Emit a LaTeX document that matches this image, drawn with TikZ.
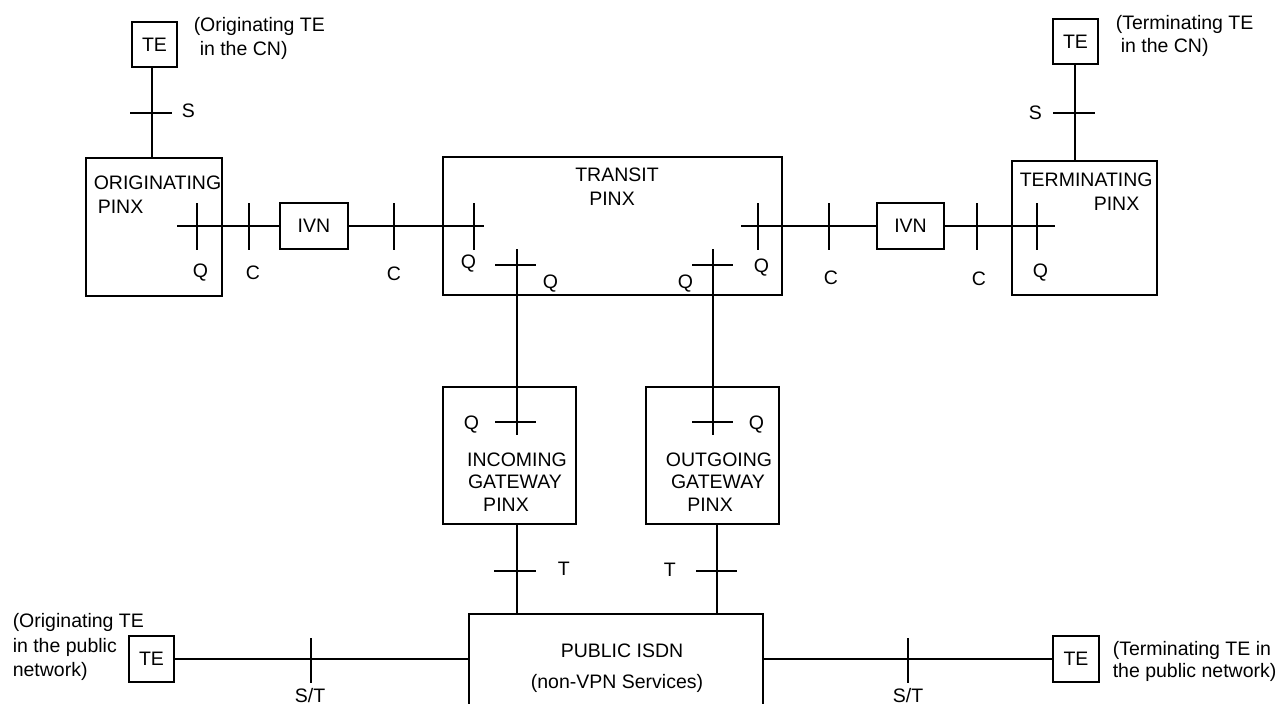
\documentclass[tikz,border=0pt]{standalone}
\usepackage{fontspec}
\setmainfont{Liberation Sans}
\begin{document}
\begin{tikzpicture}[x=1pt,y=-1pt,line width=1.5pt,
  every node/.style={font=\fontsize{19.5}{24}\selectfont},
  box/.style={draw,rectangle,anchor=north west,inner sep=0pt,outer sep=0pt},
  lbl/.style={inner sep=0pt,anchor=base west},
  lblc/.style={inner sep=0pt,anchor=base},
  tick/.style={line width=1.5pt},
  wire/.style={line width=1.5pt}]
\clip (0,0) rectangle (1280,704);
\fill[white] (0,0) rectangle (1280,704);

% boxes
\node[box,minimum width=45pt,minimum height=45pt] (te1) at (132,22) {TE};
\node[box,minimum width=136pt,minimum height=138pt] (orig) at (86,158) {};
\node[box,minimum width=68pt,minimum height=46pt] (ivn1) at (280,203) {IVN};
\node[box,minimum width=339pt,minimum height=138pt] (transit) at (443,157) {};
\node[box,minimum width=67pt,minimum height=46pt] (ivn2) at (877,203) {IVN};
\node[box,minimum width=145pt,minimum height=134pt] (term) at (1012,161) {};
\node[box,minimum width=45pt,minimum height=45pt] (te2) at (1053,19) {TE};
\node[box,minimum width=133pt,minimum height=137pt] (ingw) at (443,387) {};
\node[box,minimum width=133pt,minimum height=137pt] (outgw) at (646,387) {};
\node[box,minimum width=294pt,minimum height=110pt] (isdn) at (469,614) {};
\node[box,minimum width=45pt,minimum height=46pt] (te3) at (129,636) {TE};
\node[box,minimum width=46pt,minimum height=46pt] (te4) at (1053,636) {TE};

% connector end points
\coordinate (oL) at (177,226);
\coordinate (tL) at (484,226);
\coordinate (tR) at (741,226);
\coordinate (mR) at (1055,226);
\coordinate (tq1) at (517,249);
\coordinate (gq1) at (517,435);
\coordinate (tq2) at (713,249);
\coordinate (gq2) at (713,435);
\coordinate (gb1) at (517,524);
\coordinate (ib1) at (517,614);
\coordinate (gb2) at (717,524);
\coordinate (ib2) at (717,614);
\coordinate (s1a) at (152,67);
\coordinate (s1b) at (152,158);
\coordinate (s2a) at (1075,64);
\coordinate (s2b) at (1075,161);

% connectors
\draw[wire] (s1a) -- (s1b);
\draw[wire] (s2a) -- (s2b);
\draw[wire] (oL) -- (ivn1.west);
\draw[wire] (ivn1.east) -- (tL);
\draw[wire] (tR) -- (ivn2.west);
\draw[wire] (ivn2.east) -- (mR);
\draw[wire] (tq1) -- (gq1);
\draw[wire] (tq2) -- (gq2);
\draw[wire] (gb1) -- (ib1);
\draw[wire] (gb2) -- (ib2);
\draw[wire] (te3.east) -- (te3.east -| isdn.west);
\draw[wire] (te4.west) -- (te4.west -| isdn.east);

% ticks
\foreach \xx in {197,249,394,474,758,829,977,1037}
  \draw[tick] (\xx,203) -- (\xx,250);
\draw[tick] (130,113) -- (172,113);
\draw[tick] (1053,113) -- (1095,113);
\draw[tick] (495,265) -- (536,265);
\draw[tick] (692,265) -- (733,265);
\draw[tick] (495,422) -- (536,422);
\draw[tick] (692,422) -- (733,422);
\draw[tick] (494,571) -- (536,571);
\draw[tick] (696,571) -- (737,571);
\draw[tick] (311,638) -- (311,683);
\draw[tick] (908,638) -- (908,683);

% labels
\node[lbl] (l1) at (193,31) {(Originating TE};
\node[lbl] (l2) at (199,55) {in the CN)};
\node[lbl] (l3) at (1115,29) {(Terminating TE};
\node[lbl] (l4) at (1120,52) {in the CN)};
\node[lbl] (sO) at (181,117) {S};
\node[lbl] (sT) at (1028,119) {S};
\node[lbl] (oN1) at (93,189) {ORIGINATING};
\node[lbl] (oN2) at (97,213) {PINX};
\node[lbl] (q1) at (192,277) {Q};
\node[lbl] (c1) at (245,279) {C};
\node[lbl] (c2) at (386,280) {C};
\node[lbl] (q2) at (460,268) {Q};
\node[lblc] (tN1) at (617,181) {TRANSIT};
\node[lblc] (tN2) at (612,205) {PINX};
\node[lbl] (q3) at (542,288) {Q};
\node[lbl] (q4) at (677,288) {Q};
\node[lbl] (q5) at (753,272) {Q};
\node[lbl] (c3) at (823,284) {C};
\node[lbl] (c4) at (971,285) {C};
\node[lbl] (q6) at (1032,277) {Q};
\node[lbl] (mN1) at (1019,186) {TERMINATING};
\node[lbl] (mN2) at (1093,210) {PINX};
\node[lbl] (q7) at (463,429) {Q};
\node[lbl] (q8) at (748,429) {Q};
\node[lblc] (iN1) at (517,466) {INCOMING};
\node[lblc] (iN2) at (515,488) {GATEWAY};
\node[lblc] (iN3) at (506,511) {PINX};
\node[lblc] (gN1) at (719,466) {OUTGOING};
\node[lblc] (gN2) at (718,488) {GATEWAY};
\node[lblc] (gN3) at (710,511) {PINX};
\node[lbl] (t1) at (557,575) {T};
\node[lbl] (t2) at (663,576) {T};
\node[lblc] (pN1) at (622,657) {PUBLIC ISDN};
\node[lblc] (pN2) at (617,688) {(non-VPN Services)};
\node[lbl] (b1) at (12,627) {(Originating TE};
\node[lbl] (b2) at (12,652) {in the public};
\node[lbl] (b3) at (12,676) {network)};
\node[lbl] (b4) at (1112,655) {(Terminating TE in};
\node[lbl] (b5) at (1112,677) {the public network)};
\node[lblc] (st1) at (310,702) {S/T};
\node[lblc] (st2) at (908,702) {S/T};
\end{tikzpicture}
\end{document}
